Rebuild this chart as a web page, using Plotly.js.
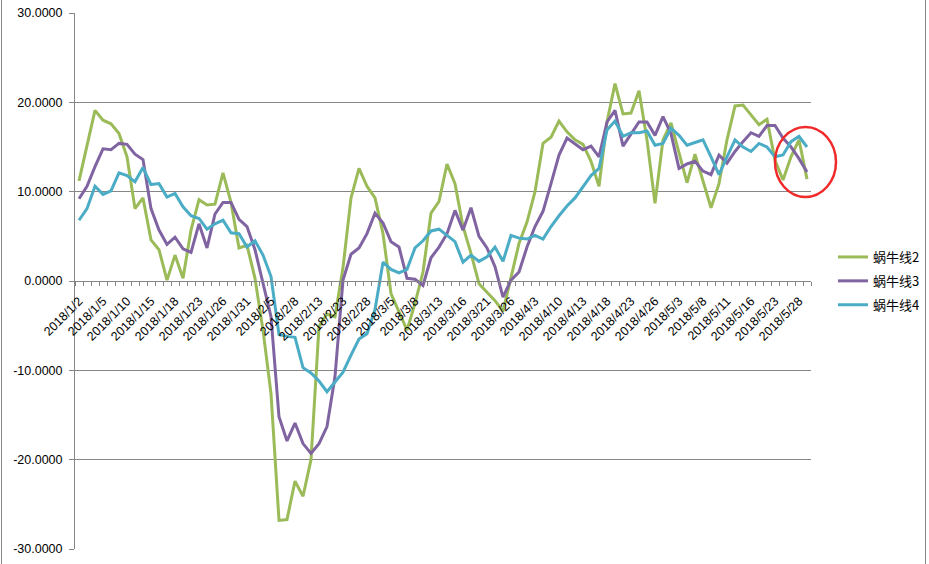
<!DOCTYPE html>
<html>
<head>
<meta charset="utf-8">
<script src="https://cdn.plot.ly/plotly-3.0.1.min.js"></script>
<style>
html,body{margin:0;padding:0;background:#fff;}
#chart{width:929px;height:564px;}
</style>
</head>
<body>
<div id="chart"></div>
<script>
// Categories (trading days shown on the chart)
const categories = [
"2018/1/2","2018/1/3","2018/1/4","2018/1/5","2018/1/8","2018/1/9","2018/1/10","2018/1/11","2018/1/12",
"2018/1/15","2018/1/16","2018/1/17","2018/1/18","2018/1/19","2018/1/22","2018/1/23","2018/1/24","2018/1/25",
"2018/1/26","2018/1/29","2018/1/30","2018/1/31","2018/2/1","2018/2/2","2018/2/5","2018/2/6","2018/2/7",
"2018/2/8","2018/2/9","2018/2/12","2018/2/13","2018/2/14","2018/2/22","2018/2/23","2018/2/26","2018/2/27",
"2018/2/28","2018/3/1","2018/3/2","2018/3/5","2018/3/6","2018/3/7","2018/3/8","2018/3/9","2018/3/12",
"2018/3/13","2018/3/14","2018/3/15","2018/3/16","2018/3/19","2018/3/20","2018/3/21","2018/3/22","2018/3/23",
"2018/3/26","2018/3/27","2018/3/28","2018/4/3","2018/4/4","2018/4/9","2018/4/10","2018/4/11","2018/4/12",
"2018/4/13","2018/4/16","2018/4/17","2018/4/18","2018/4/19","2018/4/20","2018/4/23","2018/4/24","2018/4/25",
"2018/4/26","2018/4/27","2018/5/2","2018/5/3","2018/5/4","2018/5/7","2018/5/8","2018/5/9","2018/5/10",
"2018/5/11","2018/5/14","2018/5/15","2018/5/16","2018/5/17","2018/5/18","2018/5/23","2018/5/24","2018/5/25",
"2018/5/28","2018/5/29"
];

const seriesNames = ["蜗牛线2","蜗牛线3","蜗牛线4"];

const line2 = [
11.2,15.2,19.1,18.0,17.6,16.5,13.9,8.1,9.3,4.6,3.5,0.1,2.9,0.3,5.7,9.1,8.5,8.6,12.1,8.8,
3.7,4.0,0.3,-5.5,-12.6,-26.8,-26.7,-22.4,-24.1,-20.0,-5.1,-3.7,-4.0,1.5,9.3,12.6,10.6,9.3,5.3,-1.4,
-3.4,-5.5,-2.5,1.0,7.6,8.9,13.1,10.9,6.1,3.1,-0.3,-1.2,-2.2,-3.4,0.3,4.2,6.6,10.0,15.4,16.1,
17.9,16.7,15.8,15.3,13.4,10.6,17.8,22.1,18.7,18.8,21.3,15.8,8.7,15.8,17.7,14.5,11.0,14.2,11.3,8.2,
10.9,15.8,19.6,19.7,18.6,17.5,18.1,13.5,11.3,13.9,15.8,11.4
];

const line3 = [
9.2,10.6,12.8,14.8,14.7,15.4,15.3,14.2,13.6,8.1,5.7,4.1,4.9,3.6,3.2,6.4,3.7,7.5,8.8,8.8,
6.9,6.1,3.5,-0.3,-4.0,-15.2,-17.9,-15.9,-18.2,-19.3,-18.2,-16.3,-10.7,0.1,3.0,3.7,5.3,7.6,6.5,4.4,
3.8,0.3,0.2,-0.5,2.6,3.8,5.3,7.9,5.7,8.2,5.0,3.7,1.6,-1.8,0.1,1.0,3.8,6.1,7.8,10.9,
14.1,16.0,15.3,14.7,15.1,13.9,17.8,19.1,15.1,16.5,17.8,17.8,16.3,18.4,16.5,12.6,13.1,13.4,12.3,11.9,
14.1,13.2,14.5,15.6,16.6,16.2,17.4,17.4,16.0,15.0,13.7,12.2
];

const line4 = [
6.8,8.1,10.6,9.7,10.1,12.1,11.8,11.1,12.7,10.8,10.9,9.4,9.8,8.3,7.3,7.0,5.8,6.4,6.8,5.4,
5.3,3.8,4.5,2.9,0.5,-6.0,-6.2,-6.3,-9.7,-10.3,-11.2,-12.4,-11.3,-10.2,-8.3,-6.5,-5.9,-3.2,2.1,1.3,
0.9,1.3,3.7,4.5,5.6,5.8,5.1,4.4,2.1,2.9,2.2,2.7,3.8,2.2,5.1,4.8,4.7,5.1,4.7,6.1,
7.3,8.4,9.3,10.6,11.8,12.6,16.9,17.9,16.2,16.6,16.6,16.8,15.2,15.4,17.1,16.3,15.2,15.5,15.8,13.9,
11.9,13.9,15.8,15.0,14.5,15.4,15.0,13.9,14.1,15.6,16.2,15.0
];

const yTicks = [-30,-20,-10,0,10,20,30];

const colors = ["#9BBB59","#8064A2","#4BACC6"];
const seriesData = [line2, line3, line4];

const xIdx = categories.map((c, i) => i);
const labelIdx = xIdx.filter(i => i % 3 === 0);
const labelText = labelIdx.map(i => categories[i]);

const traces = seriesData.map((vals, k) => ({
  type: "scatter",
  mode: "lines",
  name: seriesNames[k],
  x: xIdx,
  y: vals,
  text: categories,
  hovertemplate: "%{text}: %{y:.4f}<extra>" + seriesNames[k] + "</extra>",
  line: {color: colors[k], width: 3},
  legendgroup: "g" + k
}));

const L = 75, R = 811, T = 13, B = 549, W = 929, H = 564;
const px = x => (x - L) / (R - L);
const py = y => 1 - (y - T) / (B - T);

const layout = {
  width: W, height: H,
  margin: {l: L, r: W - R, t: T, b: H - B, pad: 0, autoexpand: false},
  paper_bgcolor: "#ffffff",
  plot_bgcolor: "#ffffff",
  showlegend: true,
  font: {family: "Liberation Sans, Arial, sans-serif", color: "#000"},
  xaxis: {
    type: "linear",
    range: [-0.5, categories.length - 0.5],
    anchor: "free",
    position: 0.5,
    showgrid: false,
    zeroline: false,
    showline: true,
    linecolor: "#868686",
    linewidth: 1,
    tickmode: "array",
    tickvals: labelIdx,
    ticktext: labelText,
    ticks: "",
    tickangle: -45,
    ticklabelstandoff: 7,
    automargin: false,
    tickfont: {family: "Liberation Sans, Arial, sans-serif", size: 12.5, color: "#000"},
    minor: {tickmode: "linear", tick0: -0.5, dtick: 1, ticks: "outside", ticklen: 4, tickcolor: "#868686", tickwidth: 1, showgrid: false},
    fixedrange: true
  },
  yaxis: {
    range: [-30, 30],
    tickmode: "array",
    tickvals: yTicks,
    ticktext: yTicks.map(v => v.toFixed(4)),
    showgrid: true,
    gridcolor: "#868686",
    gridwidth: 1,
    zeroline: false,
    showline: true,
    linecolor: "#868686",
    linewidth: 1,
    ticks: "outside",
    ticklen: 5,
    tickcolor: "#868686",
    ticklabelstandoff: 4,
    automargin: false,
    tickfont: {family: "Liberation Sans, Arial, sans-serif", size: 12.5, color: "#000"},
    fixedrange: true
  },
  legend: {
    x: px(833), xanchor: "left",
    y: py(242), yanchor: "top",
    traceorder: "grouped",
    tracegroupgap: 4,
    font: {family: "Noto Sans CJK SC, sans-serif", size: 13, color: "#000"},
    bgcolor: "rgba(0,0,0,0)",
    itemwidth: 30
  },
  shapes: [
    {type: "circle", xref: "paper", yref: "paper",
     x0: px(775), x1: px(836), y0: py(197), y1: py(127),
     line: {color: "#F02A2A", width: 2.5}},
    {type: "line", xref: "paper", yref: "paper", x0: px(1.5), x1: px(1.5), y0: py(-5), y1: py(570),
     line: {color: "#868686", width: 1}},
    {type: "line", xref: "paper", yref: "paper", x0: px(925.5), x1: px(925.5), y0: py(-5), y1: py(570),
     line: {color: "#868686", width: 1}}
  ]
};

Plotly.newPlot("chart", traces, layout, {displayModeBar: false, staticPlot: true});
</script>
</body>
</html>
